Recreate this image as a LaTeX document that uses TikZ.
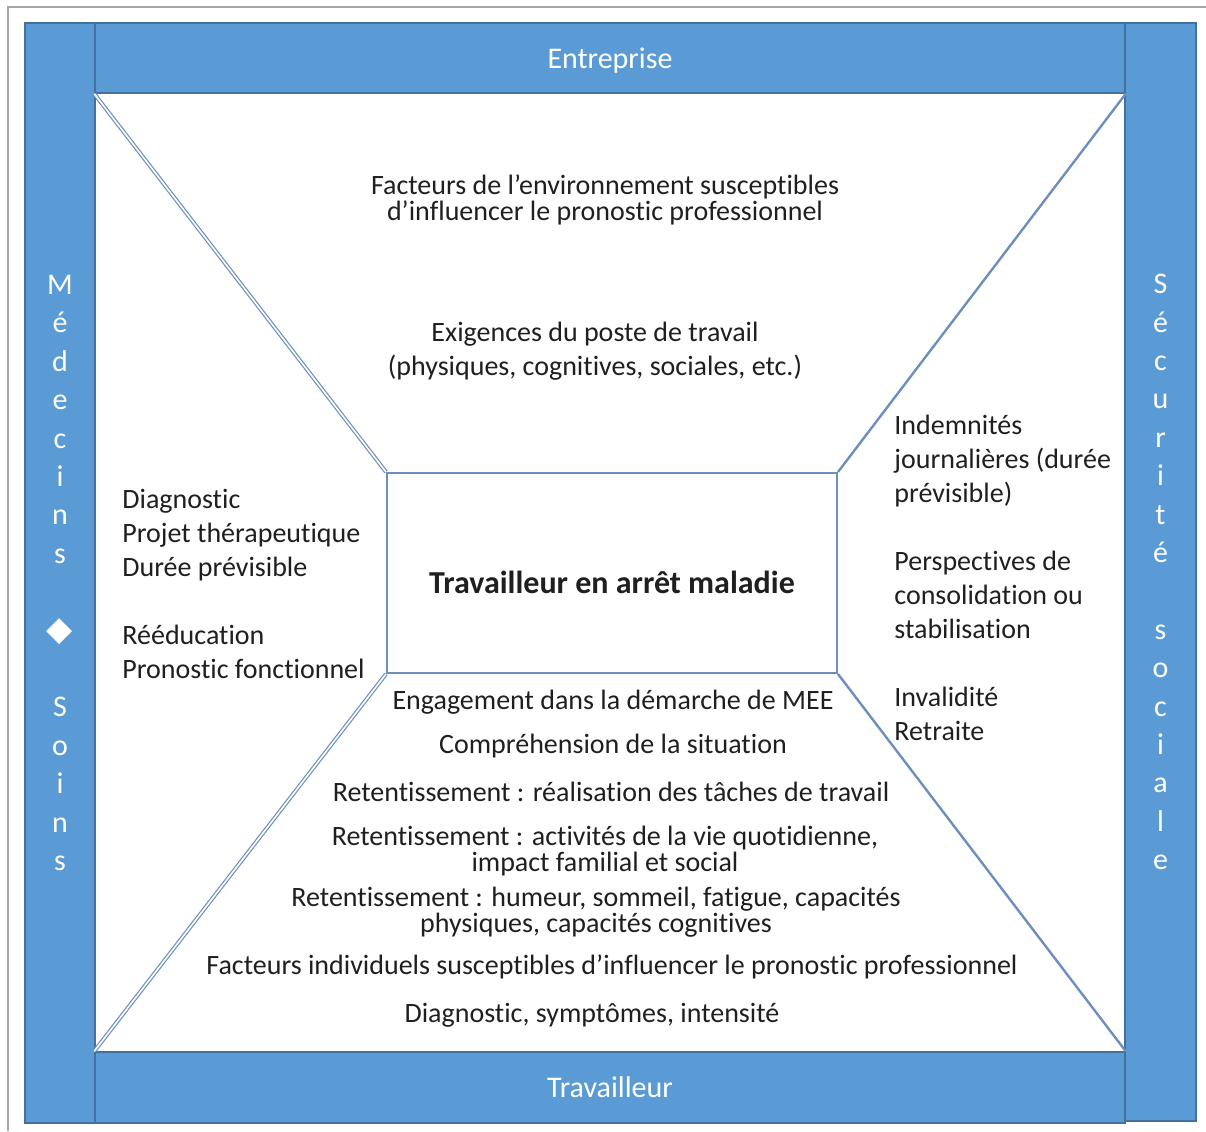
\documentclass[tikz,border=0pt]{standalone}
\usepackage{fontspec}
\setmainfont{Carlito}[Ligatures=NoCommon]
\newfontfamily\symbfont{DejaVu Sans}
\usepackage{tikz}
\usetikzlibrary{positioning}
\definecolor{barblue}{HTML}{5B9BD5}
\definecolor{bardark}{HTML}{41719C}
\definecolor{linkblue}{HTML}{6E8FBD}
\definecolor{framegray}{HTML}{A6A6A6}
\definecolor{ink}{HTML}{1F1F1F}
\tikzstyle{bar}=[rectangle,draw=bardark,line width=0.75pt,fill=barblue,text=white,font=\fontsize{15}{19.2}\selectfont,inner sep=0pt]
\tikzstyle{txt}=[font=\fontsize{14}{17}\selectfont,text=ink,inner sep=0pt]
\tikzstyle{link}=[draw=linkblue,line width=1.2pt]

\begin{document}
\begin{tikzpicture}[x=0.5pt,y=-0.5pt]
\useasboundingbox (0,0) rectangle (1206,1131);
%frame
\draw[framegray,line width=1pt] (8,1131) -- (8,7) -- (1206,7);

%side bars
\node[bar,minimum width=35pt,minimum height=550pt,align=center] (medecins) at (60,573) {M\\é\\d\\e\\c\\i\\n\\s\\[19.2pt]{\symbfont\fontsize{17}{19.2}\selectfont ◆}\\[19.2pt]S\\o\\i\\n\\s};
\node[bar,minimum width=35.5pt,minimum height=549pt,align=center] (secu) at (1160.5,572) {S\\é\\c\\u\\r\\i\\t\\é\\[19.2pt]s\\o\\c\\i\\a\\l\\e};

%top and bottom bars
\node[bar,minimum width=515pt,minimum height=35pt,text depth=0pt] (entreprise) at (610,58) {Entreprise};
\node[bar,minimum width=515pt,minimum height=35.5pt,text depth=0pt] (travailleur) at (610,1087.5) {Travailleur};

%center box
\node[draw=linkblue,line width=1pt,minimum width=225pt,minimum height=100pt,font=\bfseries\fontsize{16}{19}\selectfont,text=ink,text height=20.5pt,text depth=0pt] (arret) at (612,573) {Travailleur en arrêt maladie};

%diagonals
\draw[link,line width=0.6pt,double=white,double distance=0.8pt] (arret.north west) -- (entreprise.south west);
\draw[link,line width=0.6pt,double=white,double distance=0.8pt] (arret.south west) -- (travailleur.north west);
\foreach \corner/\edge in {north east/entreprise.south east,south east/travailleur.north east} {
  \draw[link] (arret.\corner) -- (\edge);
}

%top
\node[txt,align=center] (environnement) at (605,200) {Facteurs de l’environnement susceptibles\\[-4pt]d’influencer le pronostic professionnel};
\node[txt,align=center] (exigences) at (595,351) {Exigences du poste de travail\\(physiques, cognitives, sociales, etc.)};

%left and right
\node[txt,align=left,anchor=west] (clinique) at (122,584) {Diagnostic\\Projet thérapeutique\\Durée prévisible\\[17pt]Rééducation\\Pronostic fonctionnel};
\node[txt,align=left,anchor=west] (indemnites) at (894,578) {Indemnités\\journalières (durée\\prévisible)\\[17pt]Perspectives de\\consolidation ou\\stabilisation\\[17pt]Invalidité\\Retraite};

%bottom
\node[txt] (engagement) at (613,702) {Engagement dans la démarche de MEE};
\node[txt] (comprehension) at (613,746) {Compréhension de la situation};
\node[txt] (taches) at (611,792) {Retentissement : réalisation des tâches de travail};
\node[txt,align=center] (quotidien) at (605,851) {Retentissement : activités de la vie quotidienne,\\[-4pt]impact familial et social};
\node[txt,align=center] (humeur) at (596,912) {Retentissement : humeur, sommeil, fatigue, capacités\\[-4pt]physiques, capacités cognitives};
\node[txt] (individuels) at (612,967) {Facteurs individuels susceptibles d’influencer le pronostic professionnel};
\node[txt] (symptomes) at (592,1015) {Diagnostic, symptômes, intensité};
\end{tikzpicture}
\end{document}
